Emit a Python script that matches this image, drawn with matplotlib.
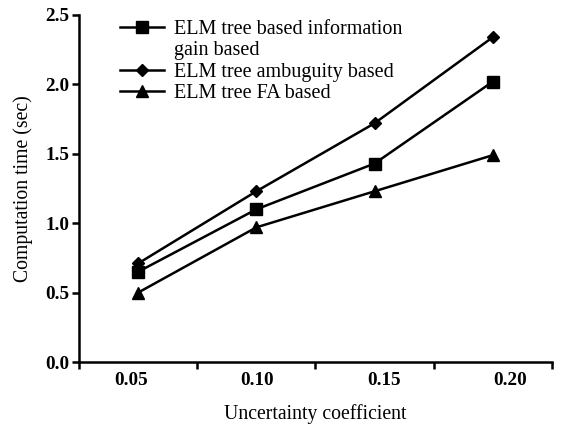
import matplotlib
matplotlib.use('Agg')
import matplotlib.pyplot as plt
from matplotlib.lines import Line2D
import numpy as np

plt.rcParams['font.family'] = ['Liberation Serif', 'DejaVu Serif']

categories = ['0.05', '0.10', '0.15', '0.20']
info_gain = [0.65, 1.10, 1.43, 2.02]
ambiguity = [0.71, 1.23, 1.72, 2.34]
fa_based = [0.50, 0.97, 1.23, 1.49]
series_labels = ['ELM tree based information\ngain based',
                 'ELM tree ambuguity based',
                 'ELM tree FA based']
yticks = [0.0, 0.5, 1.0, 1.5, 2.0, 2.5]

x = np.arange(len(categories))

fig = plt.figure(figsize=(5.62, 4.26), dpi=100)
ax = fig.add_axes([0.1406, 0.1502, 0.8414, 0.8146])

h1, = ax.plot(x, info_gain, color='black', lw=1.8, marker='s', ms=8.5)
h2, = ax.plot(x, ambiguity, color='black', lw=1.8, marker='D', ms=6.5)
h3, = ax.plot(x, fa_based, color='black', lw=1.8, marker='^', ms=9)

ax.set_xlim(-0.5, len(categories) - 0.5)
ax.set_ylim(0, 2.5)

# tick marks sit on the bin edges, labels near the points
ax.set_xticks(np.arange(len(categories) + 1) - 0.5)
ax.set_xticklabels([])
ax.set_xticks(x * 1.07 - 0.06, minor=True)
ax.set_xticklabels(categories, minor=True)
ax.tick_params(axis='x', which='major', direction='out', length=5, width=1.8)
ax.tick_params(axis='x', which='minor', length=0, pad=7, labelsize=13.8)

ax.set_yticks(yticks)
ax.set_yticklabels([f'{v:.1f}' for v in yticks])
ax.tick_params(axis='y', direction='out', length=5, width=1.8, pad=2, labelsize=13.8)
for lab in ax.get_xticklabels(minor=True) + ax.get_yticklabels():
    lab.set_fontweight('bold')

for s in ['top', 'right']:
    ax.spines[s].set_visible(False)
for s in ['left', 'bottom']:
    ax.spines[s].set_linewidth(1.8)

ax.set_xlabel('Uncertainty coefficient', fontsize=14.2, labelpad=11)
ax.set_ylabel('Computation time (sec)', fontsize=14.2, labelpad=9)

first, second = series_labels[0].split('\n')
blank = Line2D([], [], color='none')
ax.legend([h1, blank, h2, h3], [first, second, series_labels[1], series_labels[2]],
          loc='upper left', bbox_to_anchor=(0.07, 1.01), frameon=False,
          fontsize=14.5, labelspacing=0.12, handlelength=2.2, handletextpad=0.45,
          borderaxespad=0.0)

fig.savefig('out.png', dpi=100)
